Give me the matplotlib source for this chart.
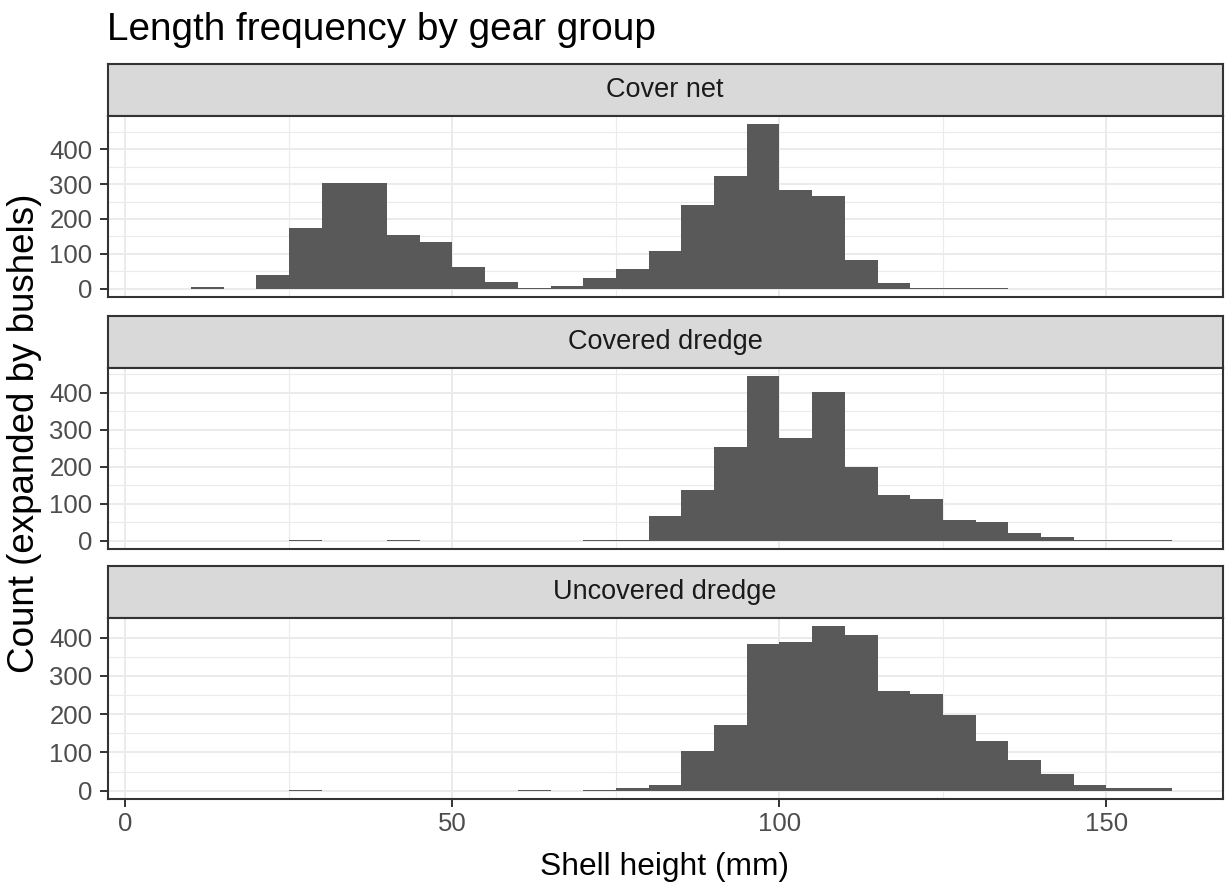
import matplotlib
matplotlib.use("Agg")
import matplotlib.pyplot as plt
import numpy as np

# ---------------- data ----------------
bin_width = 5
bin_lefts = list(range(0, 160, 5))  # 0,5,...,155

panels = ["Cover net", "Covered dredge", "Uncovered dredge"]

cover_net = [0, 0, 4, 0, 39, 175, 304, 304, 153, 135, 61, 18, 3, 9, 31, 57,
             109, 239, 322, 473, 283, 265, 83, 17, 2, 2, 2, 0, 0, 0, 0, 0]
covered_dredge = [0, 0, 0, 0, 0, 2, 0, 0, 2, 0, 0, 0, 0, 0, 2, 2,
                  68, 137, 253, 446, 277, 401, 200, 125, 112, 55, 51, 22, 9, 2, 2, 2]
uncovered_dredge = [0, 0, 0, 0, 0, 2, 0, 0, 0, 0, 0, 0, 2, 0, 2, 7,
                    16, 105, 173, 383, 388, 431, 406, 260, 252, 197, 129, 81, 43, 15, 6, 6]
series = [cover_net, covered_dredge, uncovered_dredge]

x_range = (5, 160)          # range of bins spanned across panels
x_ticks = [0, 50, 100, 150]
x_minor = [25, 75, 125]
y_ticks = [0, 100, 200, 300, 400]
y_minor = [50, 150, 250, 350, 450]

title = "Length frequency by gear group"
xlabel = "Shell height (mm)"
ylabel = "Count (expanded by bushels)"

# ---------------- layout ----------------
W, H = 1225, 886
fig = plt.figure(figsize=(W / 100, H / 100), dpi=100)
plt.rcParams['font.family'] = ['Liberation Sans', 'DejaVu Sans']

left_px, right_px = 107.5, 1222.5
strip_tops = [64, 316, 566]
strip_h = 51.5
ax_h = 181.5

def fx(px):
    return px / W

def fy(py):
    return 1 - py / H

border = "#333333"
lo, hi = x_range
span = hi - lo
xlim = (lo - 0.05 * span, hi + 0.05 * span)

axes = []
for i, (name, vals) in enumerate(zip(panels, series)):
    st = strip_tops[i]
    # strip
    sax = fig.add_axes([fx(left_px), fy(st + strip_h), fx(right_px - left_px), strip_h / H])
    sax.set_facecolor("#D9D9D9")
    sax.set_xticks([]); sax.set_yticks([])
    for sp in sax.spines.values():
        sp.set_color(border); sp.set_linewidth(1.5)
    sax.text(0.5, 0.5, name, ha="center", va="center", fontsize=19.5,
             color="#1A1A1A", transform=sax.transAxes)

    ax = fig.add_axes([fx(left_px), fy(st + strip_h + ax_h), fx(right_px - left_px), ax_h / H])
    ax.set_facecolor("white")
    ax.bar(bin_lefts, vals, width=bin_width, align="edge", color="#595959",
           edgecolor="none", linewidth=0, zorder=3)
    vmax = max(vals)
    ax.set_ylim(-0.05 * vmax, 1.05 * vmax)
    ax.set_xlim(*xlim)
    ax.set_xticks(x_ticks)
    ax.set_xticks(x_minor, minor=True)
    ax.set_yticks(y_ticks)
    ax.set_yticks(y_minor, minor=True)
    ax.grid(which="major", color="#EBEBEB", linewidth=1.4, zorder=0)
    ax.grid(which="minor", color="#EBEBEB", linewidth=0.8, zorder=0)
    ax.set_axisbelow(True)
    for sp in ax.spines.values():
        sp.set_color(border); sp.set_linewidth(1.5)
    ax.tick_params(axis="both", which="minor", length=0)
    ax.tick_params(axis="both", which="major", length=5.8, width=1.4,
                   color=border, labelcolor="#4D4D4D", labelsize=18.5)
    ax.tick_params(axis="y", pad=5.0)
    ax.tick_params(axis="x", pad=3.5)
    if i < 2:
        ax.tick_params(axis="x", which="both", length=0, labelbottom=False)
    axes.append(ax)

fig.text(fx(107), fy(40), title, ha="left", va="baseline", fontsize=27.9, color="black")
fig.text(fx((left_px + right_px) / 2), fy(875), xlabel, ha="center", va="baseline",
         fontsize=22.9, color="black")
fig.text(fx(25), fy(433), ylabel, ha="center", va="center",
         rotation=90, fontsize=26.5, color="black")

fig.savefig("out.png", dpi=100, facecolor="white")
